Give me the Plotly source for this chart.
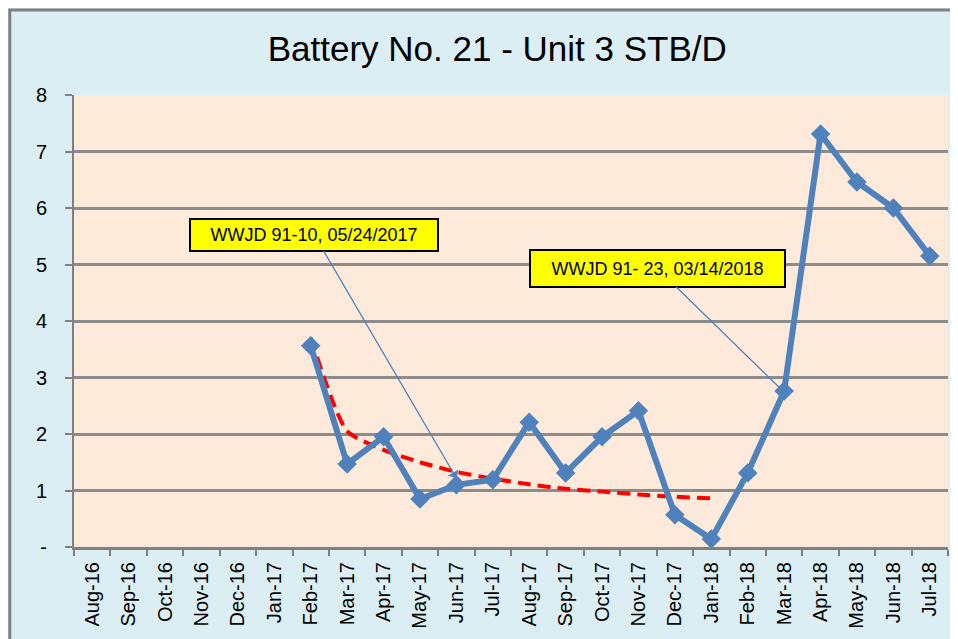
import plotly.graph_objects as go

months = ["Aug-16", "Sep-16", "Oct-16", "Nov-16", "Dec-16", "Jan-17", "Feb-17", "Mar-17",
          "Apr-17", "May-17", "Jun-17", "Jul-17", "Aug-17", "Sep-17", "Oct-17", "Nov-17",
          "Dec-17", "Jan-18", "Feb-18", "Mar-18", "Apr-18", "May-18", "Jun-18", "Jul-18"]
values = [None, None, None, None, None, None, 3.56, 1.47, 1.95, 0.85, 1.10, 1.19, 2.21,
          1.31, 1.95, 2.41, 0.57, 0.14, 1.31, 2.76, 7.31, 6.46, 6.00, 5.15]
trend_months = ["Feb-17", "Mar-17", "Apr-17", "May-17", "Jun-17", "Jul-17", "Aug-17",
                "Sep-17", "Oct-17", "Nov-17", "Dec-17", "Jan-18"]
trend_values = [3.70, 2.05, 1.72, 1.50, 1.33, 1.21, 1.11, 1.03, 0.98, 0.93, 0.89, 0.86]
y_ticks = [0, 1, 2, 3, 4, 5, 6, 7, 8]
y_tick_text = ["-", "1", "2", "3", "4", "5", "6", "7", "8"]
title_text = "Battery No. 21 - Unit 3 STB/D"
notes = [
    {"text": "WWJD 91-10, 05/24/2017", "x": "Jun-17", "y": 1.22, "ax": -142, "ay": -243,
     "w": 236, "h": 20},
    {"text": "WWJD 91- 23, 03/14/2018", "x": "Mar-18", "y": 2.74, "ax": -127, "ay": -124,
     "w": 243, "h": 25},
]

blue = "#4F81BD"
fig = go.Figure()
fig.add_trace(go.Scatter(
    x=trend_months, y=trend_values, mode="lines",
    line=dict(color="#FF0000", width=4, dash="13px,7px", shape="spline", smoothing=0.6),
    hoverinfo="skip", showlegend=False))
fig.add_trace(go.Scatter(
    x=months, y=values, mode="lines+markers",
    line=dict(color=blue, width=6),
    marker=dict(symbol="diamond", size=15, color=blue),
    showlegend=False))

for n in notes:
    fig.add_annotation(
        x=n["x"], y=n["y"], ax=n["ax"], ay=n["ay"], xref="x", yref="y",
        text=n["text"], showarrow=True, arrowhead=1, arrowsize=1.6, arrowwidth=1.3,
        arrowcolor=blue, bgcolor="#FFFF00", bordercolor="#000000", borderwidth=2,
        borderpad=5, width=n["w"], height=n["h"],
        font=dict(family="Liberation Sans, Arial", size=18, color="#000000"))

fig.add_shape(type="rect", xref="paper", yref="paper",
              x0=-0.0735, x1=1.05, y0=-0.25, y1=1.188, line=dict(color="#808080", width=3),
              layer="below")

fig.update_layout(
    width=950, height=631,
    margin=dict(l=66, r=10, t=87, b=92, autoexpand=False),
    paper_bgcolor="#DBEEF4", plot_bgcolor="#FDEADA",
    title=dict(text=title_text, x=0.515, xanchor="center", y=0.935, yanchor="middle",
               font=dict(family="Liberation Sans Narrow, Arial Narrow, Liberation Sans",
                         size=35, color="#000000")),
    font=dict(family="Liberation Sans, Arial", color="#000000"),
)
fig.update_xaxes(
    type="category", categoryorder="array", categoryarray=months,
    tickmode="array", tickvals=months, ticktext=months, tickangle=-90,
    tickson="boundaries", ticks="outside", ticklen=6, tickwidth=2, tickcolor="#808080",
    tickfont=dict(family="Liberation Sans", size=20), showgrid=False, showline=True,
    linecolor="#808080", linewidth=3, range=[-0.5, 23.5], automargin=False,
    ticklabelstandoff=4)
fig.update_yaxes(
    range=[0, 8], tickmode="array", tickvals=y_ticks, ticktext=y_tick_text,
    tickfont=dict(family="Liberation Sans", size=20), showgrid=True, gridcolor="#8C8C8C",
    gridwidth=3, showline=True, linecolor="#808080", linewidth=2, ticks="outside",
    ticklen=7, tickwidth=2, tickcolor="#808080", zeroline=False, ticklabelstandoff=14,
    automargin=False)

fig.write_html("out.html")
